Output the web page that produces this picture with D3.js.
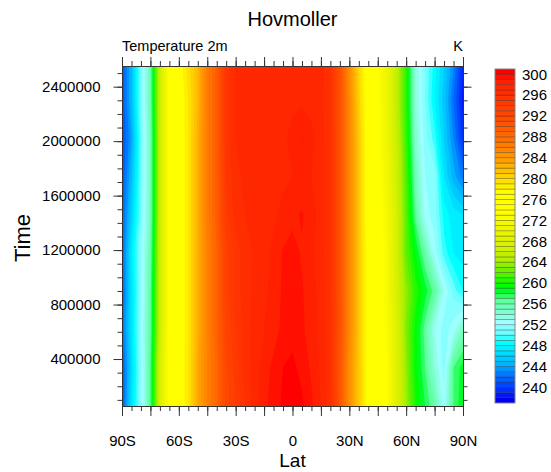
<!DOCTYPE html>
<html>
<head>
<meta charset="utf-8">
<script src="https://cdn.jsdelivr.net/npm/d3@7"></script>
<style>
  body { margin: 0; background: #fff; }
  text { font-family: "Liberation Sans", Arial, Helvetica, sans-serif; fill: #000; }
</style>
</head>
<body>
<svg id="chart" width="551" height="472"></svg>
<script>
//////// Data
// grid columns (deg, south negative)
var lats = [-90, -85, -80, -75, -70, -65, -60, -55, -50, -45, -40, -35, -30, -25, -20, -15, -10, -5,
            0, 5, 10, 15, 20, 25, 30, 35, 40, 45, 50, 55, 60, 65, 70, 75, 80, 85, 90];
// grid rows (time)
var times = [55000, 340000, 620000, 900000, 1180000, 1460000, 1740000, 2020000, 2300000, 2552000];

// 2m temperature (K), one row per time, 90S -> 90N
var t2m = [
  [241, 247, 251.5, 257, 267, 274, 276.5, 279, 283, 286, 288.5, 292.5, 294, 296, 297.5, 298.7, 299.5, 300.2, 300.4,
   300.2, 299.2, 298, 296.5, 290.5, 285, 281, 277, 275, 273, 268, 264, 260, 258, 256, 252.5, 257, 259],
  [241, 246.5, 251.5, 257, 267, 274, 276.5, 279, 283, 286, 288.5, 292.5, 294.5, 296.5, 297.5, 298.5, 299.3, 300, 300.2,
   299.7, 298.8, 297.8, 296, 290.5, 285, 281, 277, 275, 273, 268, 263.5, 259.5, 257, 254, 251.5, 257, 258.5],
  [242, 247, 252, 256.5, 266, 274, 276.5, 279, 282.5, 286, 289, 293, 295, 296.5, 297.5, 298, 298.5, 299.3, 299.7,
   299.2, 298.5, 297.7, 296.2, 291, 285.5, 281, 277, 275, 272.5, 268, 263, 259.5, 256.5, 253, 251.5, 252.5, 255],
  [241.5, 247, 251.5, 256.5, 266, 274, 276.5, 279, 282.5, 286, 289, 293.5, 295.5, 296.5, 297.3, 297.8, 298.3, 299.2, 299.6,
   299.1, 298.4, 297.6, 296, 291, 285.5, 281, 277, 275, 272, 267, 263.5, 260.5, 258.5, 256.5, 253, 250.5, 249],
  [241.5, 247.5, 251.5, 256, 266, 274, 276.5, 279, 282.5, 286, 289, 293.5, 295.5, 296.5, 297.2, 297.7, 298.2, 299.1, 299.3,
   298.9, 298.2, 297.5, 296, 291, 285.5, 281, 277, 275, 272, 267, 262, 259, 256, 252.5, 249.5, 248, 247.5],
  [241.5, 246, 251, 255.5, 266, 274, 276.5, 279, 282.5, 286.5, 289.5, 294.5, 296.5, 297, 297.3, 297.5, 297.8, 298.3, 298.8,
   299.1, 298.5, 297.5, 296, 291, 285.5, 281, 276.5, 274.5, 271.5, 267, 262, 256.5, 252.5, 251.5, 248.5, 247.5, 247],
  [241, 245, 250.5, 255.5, 266, 274, 276.5, 279, 282.5, 286.5, 289.5, 295, 296.8, 297.2, 297.5, 297.5, 297.6, 297.8, 298,
   298.3, 298, 297.5, 296, 291, 285.5, 281, 276.5, 274, 271, 266.5, 261.5, 255.5, 252, 251.5, 247, 244.5, 242.5],
  [240.5, 244, 250.5, 255.5, 266, 274, 276.5, 279, 282.5, 286.5, 289.5, 295.5, 297, 297.4, 297.5, 297.5, 297.6, 297.8, 298.3,
   299.05, 298.3, 297.5, 296, 291, 285.5, 281, 276.5, 273.5, 270.5, 266, 261, 254.5, 251.5, 249.5, 246, 243, 239.5],
  [241, 245, 251, 256, 266, 274, 276.5, 279, 282, 286.5, 289.5, 295.5, 297, 297.5, 297.5, 297.5, 297.5, 297.5, 297.8,
   297.8, 297.6, 297.4, 296, 291, 285.5, 280.5, 276.5, 273.5, 270, 265.5, 260.5, 254, 251, 248, 245.5, 242, 238.5],
  [241, 245, 251, 256, 266, 274, 277, 279.5, 282, 286.5, 289.5, 295.5, 297, 297.5, 297.5, 297.5, 297.5, 297.5, 297.5,
   297.5, 297.5, 297.5, 296, 291, 285, 280, 276.5, 273.5, 270, 265.5, 260.5, 254, 251, 248.5, 246, 243, 239]
];

// axis ticks
var latTicks = [-90, -75, -60, -45, -30, -15, 0, 15, 30, 45, 60, 75, 90];
var latLabelVals = [-90, -60, -30, 0, 30, 60, 90];
var latLabels = ["90S", "60S", "30S", "0", "30N", "60N", "90N"];
var timeTicks = [400000, 800000, 1200000, 1600000, 2000000, 2400000];

// contour levels 238..300 by 1, labelbar labels every 4
var levels = d3.range(238, 301, 1);
var barLabels = d3.range(240, 301, 4);

// colour map stops (blue-aqua-green-yellow-orange-red)
var colorStops = [237, 240, 242, 244, 246, 248, 250, 252, 254, 256, 258, 259, 262, 264, 266, 270, 273, 277,
                  280, 283, 286, 289, 292, 296, 298, 299, 300];
var colorHex = ["#0000f8", "#0048ff", "#0078ff", "#00b4ff", "#00dcff", "#00ffff", "#70ffff", "#a0ffff", "#80ffd0",
                "#60ffa0", "#00ff28", "#00ff00", "#70f000", "#b0f000", "#d0f000", "#f0f600", "#ffff00", "#ffff00",
                "#ffd000", "#ffa000", "#ff7c00", "#ff5c00", "#ff4600", "#ff2e00", "#ff2000", "#ff1000", "#ff0000"];

//////// Setup
var svg = d3.select("#chart");
var L = 122, R = 463, T = 66, B = 406;
var lineCol = "#333";

var x = d3.scaleLinear().domain(d3.extent(lats)).range([L, R]);
var y = d3.scaleLinear().domain(d3.extent(times)).range([B, T]);
var colorOf = d3.scaleLinear().domain(colorStops).range(colorHex).clamp(true);

//////// Filled contours
var nx = lats.length, ny = times.length;
var values = [];
t2m.forEach(function (row) { row.forEach(function (v) { values.push(v); }); });

var contours = d3.contours().size([nx, ny]).thresholds([-1000].concat(levels))(values);

var latIdx = d3.scaleLinear().domain(d3.range(nx)).range(lats);
var timeIdx = d3.scaleLinear().domain(d3.range(ny)).range(times);
var path = d3.geoPath(d3.geoTransform({
  point: function (px, py) {
    this.stream.point(x(latIdx(px - 0.5)), y(timeIdx(py - 0.5)));
  }
}));

svg.append("clipPath").attr("id", "plotclip")
  .append("rect").attr("x", L).attr("y", T).attr("width", R - L).attr("height", B - T);

svg.append("g").attr("clip-path", "url(#plotclip)")
  .selectAll("path").data(contours).join("path")
  .attr("d", path)
  .attr("fill", function (d) { return d.value < levels[0] ? colorOf(237) : colorOf(d.value); })
  .attr("stroke", "none");

//////// Axes
function styleAxis(g) {
  g.select(".domain").remove();
  g.selectAll("line").attr("stroke", lineCol);
  g.selectAll("text").style("font-size", "15px").style("font-family", "'Liberation Sans', Arial, sans-serif");
}

var latMinor = d3.range(-90, 91, 5);
var timeMinor = d3.range(100000, 2552000, 100000);

// bottom
svg.append("g").attr("transform", "translate(0," + B + ")")
  .call(d3.axisBottom(x).tickValues(latMinor).tickSize(5).tickFormat("")).call(styleAxis);
svg.append("g").attr("transform", "translate(0," + B + ")")
  .call(d3.axisBottom(x).tickValues(latTicks).tickSize(10).tickPadding(19)
    .tickFormat(function (d) { var i = latLabelVals.indexOf(d); return i < 0 ? "" : latLabels[i]; }))
  .call(styleAxis);
// top
svg.append("g").attr("transform", "translate(0," + T + ")")
  .call(d3.axisTop(x).tickValues(latMinor).tickSize(5).tickFormat("")).call(styleAxis);
svg.append("g").attr("transform", "translate(0," + T + ")")
  .call(d3.axisTop(x).tickValues(latTicks).tickSize(9).tickFormat("")).call(styleAxis);
// left
svg.append("g").attr("transform", "translate(" + L + ",0)")
  .call(d3.axisLeft(y).tickValues(timeMinor).tickSize(4.5).tickFormat("")).call(styleAxis);
svg.append("g").attr("transform", "translate(" + L + ",0)")
  .call(d3.axisLeft(y).tickValues(timeTicks).tickSize(8.5).tickPadding(13).tickFormat(d3.format("d")))
  .call(styleAxis);
// right
svg.append("g").attr("transform", "translate(" + R + ",0)")
  .call(d3.axisRight(y).tickValues(timeMinor).tickSize(4.5).tickFormat("")).call(styleAxis);
svg.append("g").attr("transform", "translate(" + R + ",0)")
  .call(d3.axisRight(y).tickValues(timeTicks).tickSize(8.5).tickFormat("")).call(styleAxis);

// frame
svg.append("rect")
  .attr("x", L + 0.5).attr("y", T + 0.5).attr("width", R - L).attr("height", B - T)
  .attr("fill", "none").attr("stroke", lineCol).attr("stroke-width", 1);

//////// Titles
svg.append("text").attr("x", (L + R) / 2).attr("y", 26).attr("text-anchor", "middle")
  .style("font-size", "20px").text("Hovmoller");
svg.append("text").attr("x", L).attr("y", 51).style("font-size", "14.5px").text("Temperature 2m");
svg.append("text").attr("x", R).attr("y", 51).attr("text-anchor", "end").style("font-size", "14.5px").text("K");
svg.append("text").attr("x", (L + R) / 2).attr("y", 467).attr("text-anchor", "middle")
  .style("font-size", "19px").text("Lat");
svg.append("text").attr("transform", "translate(30," + ((T + B) / 2 + 2) + ") rotate(-90)")
  .attr("text-anchor", "middle").style("font-size", "22px").text("Time");

//////// Labelbar
var cbX = 495, cbW = 20, cbTop = 69, cbBot = 403;
var cb = d3.scaleLinear().domain([237, 301]).range([cbBot, cbTop]);
var boxVals = [237].concat(levels);

svg.append("g").selectAll("rect").data(boxVals).join("rect")
  .attr("x", cbX).attr("width", cbW)
  .attr("y", function (d) { return cb(d + 1); })
  .attr("height", function (d) { return cb(d) - cb(d + 1); })
  .attr("fill", function (d) { return colorOf(d); })
  .attr("stroke", "#000").attr("stroke-opacity", 0.35).attr("stroke-width", 0.7);

svg.append("rect").attr("x", cbX).attr("y", cbTop).attr("width", cbW).attr("height", cbBot - cbTop)
  .attr("fill", "none").attr("stroke", "#999").attr("stroke-width", 0.8);

svg.append("g").selectAll("text").data(barLabels).join("text")
  .attr("x", cbX + cbW + 7)
  .attr("y", function (d) { return cb(d); })
  .attr("dy", "0.36em")
  .style("font-size", "15px")
  .text(function (d) { return d; });
</script>
</body>
</html>
